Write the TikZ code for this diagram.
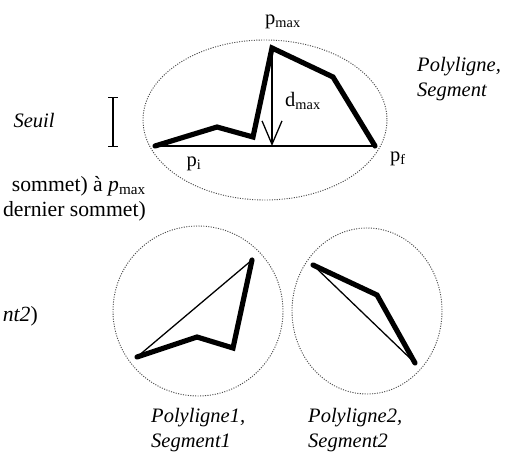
\documentclass[tikz,border=0pt]{standalone}
\usepackage{fontspec}
\setmainfont{Liberation Serif}
\usetikzlibrary{arrows.meta,positioning}
\tikzset{
  hull/.style={draw=black!70,line width=.8pt,dash pattern=on .9pt off 1.2pt},
  poly/.style={line width=4.4pt,line join=miter,line cap=round},
  chord/.style={line width=1.1pt},
  lbl/.style={font=\fontsize{17.5}{21}\selectfont\itshape,align=left,inner sep=0pt},
  ptlbl/.style={font=\fontsize{17.5}{21}\selectfont,inner sep=0pt},
  cuttext/.style={font=\fontsize{18.5}{22}\selectfont,inner sep=0pt,anchor=east}
}

\begin{document}
\begin{tikzpicture}[x=.03cm,y=-.03cm,>=Latex]
  \useasboundingbox (0,0) rectangle (507,461);
  % text running in from the left column
  \node[cuttext] (cutA) at (146,186) {sommet) à \textit{p}\textsubscript{max}};
  \node[cuttext] (cutB) at (146,211) {dernier sommet)};
  \node[cuttext] (cutC) at (38,316) {\textit{nt2})};
  % threshold
  \node[lbl] (seuil) at (34,121) {Seuil};
  \draw[chord,{Bar[width=8pt]}-{Bar[width=8pt]}] (113,97) -- (113,147);
  % whole polyline
  \draw[hull] (265,120) ellipse [x radius=122,y radius=80];
  \coordinate (pi) at (155,146);
  \coordinate (pmax) at (272,48);
  \coordinate (pf) at (375,146);
  \coordinate (foot) at (pmax |- pi);
  \draw[poly] (pi) -- (217,127) -- (253,137) -- (pmax) -- (333,77) -- (pf);
  \draw[chord] (pi) -- (pf);
  \draw[chord,-{Straight Barb[length=20pt,width=17pt]}] (pmax) -- (foot);
  \node[ptlbl] (pmaxlbl) at (283,22) {p\textsubscript{max}};
  \node[ptlbl] (dmaxlbl) at (303,101) {d\textsubscript{max}};
  \node[ptlbl] (pilbl) at (194,164) {p\textsubscript{i}};
  \node[ptlbl] (pflbl) at (398,159) {p\textsubscript{f}};
  \node[lbl,anchor=north west] (name0) at (417,57) {Polyligne,\\Segment};
  % first part
  \draw[hull] (198,311) circle [radius=85];
  \coordinate (a1) at (137,357);
  \coordinate (b1) at (252,260);
  \draw[poly] (a1) -- (197,337) -- (233,348) -- (b1);
  \draw[chord] (a1) -- (b1);
  \node[lbl,anchor=north west] (name1) at (151,408) {Polyligne1,\\Segment1};
  % second part
  \draw[hull] (367,311) ellipse [x radius=75,y radius=83];
  \coordinate (a2) at (313,265);
  \coordinate (b2) at (415,363);
  \draw[poly] (a2) -- (377,295) -- (b2);
  \draw[chord] (a2) -- (b2);
  \node[lbl,anchor=north west] (name2) at (308,408) {Polyligne2,\\Segment2};
\end{tikzpicture}
\end{document}
